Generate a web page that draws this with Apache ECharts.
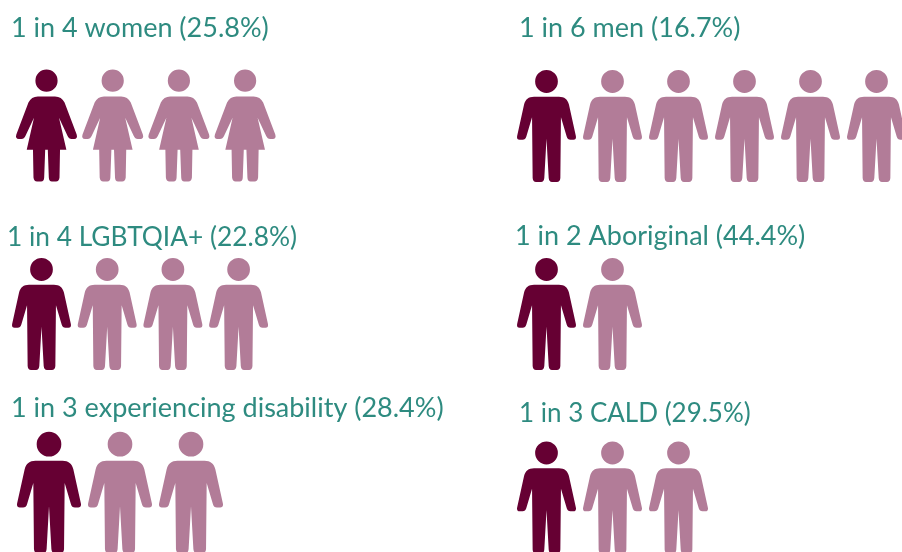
<!DOCTYPE html>
<html><head><meta charset="utf-8">
<style>html,body{margin:0;padding:0;background:#fff;overflow:hidden}#c{width:902px;height:552px}</style>
<script src="https://cdn.jsdelivr.net/npm/echarts@6/dist/echarts.min.js"></script>
</head><body><div id="c"></div>
<script>
// Data
const groups = ['women', 'men', 'LGBTQIA+', 'Aboriginal', 'experiencing disability', 'CALD'];
const oneIn = [4, 6, 4, 2, 3, 3];
const percent = [25.8, 16.7, 22.8, 44.4, 28.4, 29.5];
const highlighted = [1, 1, 1, 1, 1, 1];

// Layout (separate from data)
const circle = (cx, cy, r) => `M${cx - r} ${cy}A${r} ${r} 0 1 1 ${cx + r} ${cy}A${r} ${r} 0 1 1 ${cx - r} ${cy}Z`;
const manPath = 'path://' + circle(29.5, 12, 11.4) +
  'M17 27.3L42 27.3C47.5 27.3 50.7 30 52 35L59 66.5C59.4 68.8 58.4 70 56.5 70L53.5 70C51.5 70 50.4 69 49.8 67L44 47.5L43.4 108C43.2 110.8 42 112 40 112L35 112C33 112 32 110.8 31.7 108L29.5 69' +
  'L27.3 108C27 110.8 26 112 24 112L19 112C17 112 15.8 110.8 15.6 108L15 47.5L9.2 67C8.6 69 7.5 70 5.5 70L2.5 70C.6 70 -.4 68.8 0 66.5L7 35C8.3 30 11.5 27.3 17 27.3Z';
const womanPath = 'path://' + circle(30.6, 12.3, 11) +
  'M22 28L39 28C43.5 28 46.5 30 48.5 34L60.5 65.5C61.4 68.3 60.4 70 58 70L55.5 70C53.5 70 52.5 69 51.5 67L43 49L50.3 80.7L44 80.7L43.5 108C43.2 110.8 42 112 40 112L36 112C34 112 33 110.8 32.9 108L31.9 80.7' +
  'L29.3 80.7L28.3 108C28.2 110.8 27.2 112 25.2 112L21.2 112C19.2 112 18 110.8 17.7 108L17.2 80.7L11 80.7L18.2 49L9.7 67C8.7 69 7.7 70 5.7 70L3.2 70C.8 70 -.2 68.3 .7 65.5L12.7 34C14.7 30 17.7 28 22 28Z';
const paths = [womanPath, manPath, manPath, manPath, manPath, manPath];
const iconW = [61, 59, 59, 59, 64, 59];
const iconH = [112, 112, 112, 112, 121.5, 112];
const iconLeft = [16, 517, 12, 517, 17, 517];
const iconTop = [69.5, 70, 258, 258, 433, 443];
const spacing = [66.2, 66, 65.7, 66, 71, 66];
const textLeft = [11, 519, 7, 515, 11, 519];
const textTop = [15, 15, 225, 223, 395, 401];
const textSize = [27, 27, 26.3, 27, 27, 26];

const DARK = '#660033', LIGHT = '#B27C98', TEAL = '#2E8B80';
const idx = groups.map((_, i) => i);
const option = {
  animation: false,
  backgroundColor: '#fff',
  title: idx.map(i => ({
    text: `1 in ${oneIn[i]} ${groups[i]} (${percent[i].toFixed(1)}%)`,
    left: textLeft[i], top: textTop[i], padding: 0,
    textStyle: { fontFamily: 'Lato', fontSize: textSize[i], fontWeight: 'normal', color: TEAL }
  })),
  grid: idx.map(i => ({
    left: iconLeft[i] + iconW[i] / 2,
    top: iconTop[i],
    width: spacing[i] * (oneIn[i] - 1),
    height: iconH[i],
    containLabel: false
  })),
  xAxis: idx.map(i => ({ gridIndex: i, type: 'value', show: false, min: 0, max: oneIn[i] - 1 })),
  yAxis: idx.map(i => ({ gridIndex: i, type: 'value', show: false, min: 0, max: 1 })),
  series: idx.map(i => ({
    type: 'scatter', xAxisIndex: i, yAxisIndex: i, silent: true, clip: false,
    symbol: paths[i], symbolSize: [iconW[i], iconH[i]], symbolKeepAspect: false,
    data: Array.from({ length: oneIn[i] }, (_, k) => ({
      value: [k, 0.5],
      itemStyle: { color: k < highlighted[i] ? DARK : LIGHT, opacity: 1 }
    }))
  }))
};
const chart = echarts.init(document.getElementById('c'), null, { renderer: 'canvas' });
chart.setOption(option);
</script></body></html>
